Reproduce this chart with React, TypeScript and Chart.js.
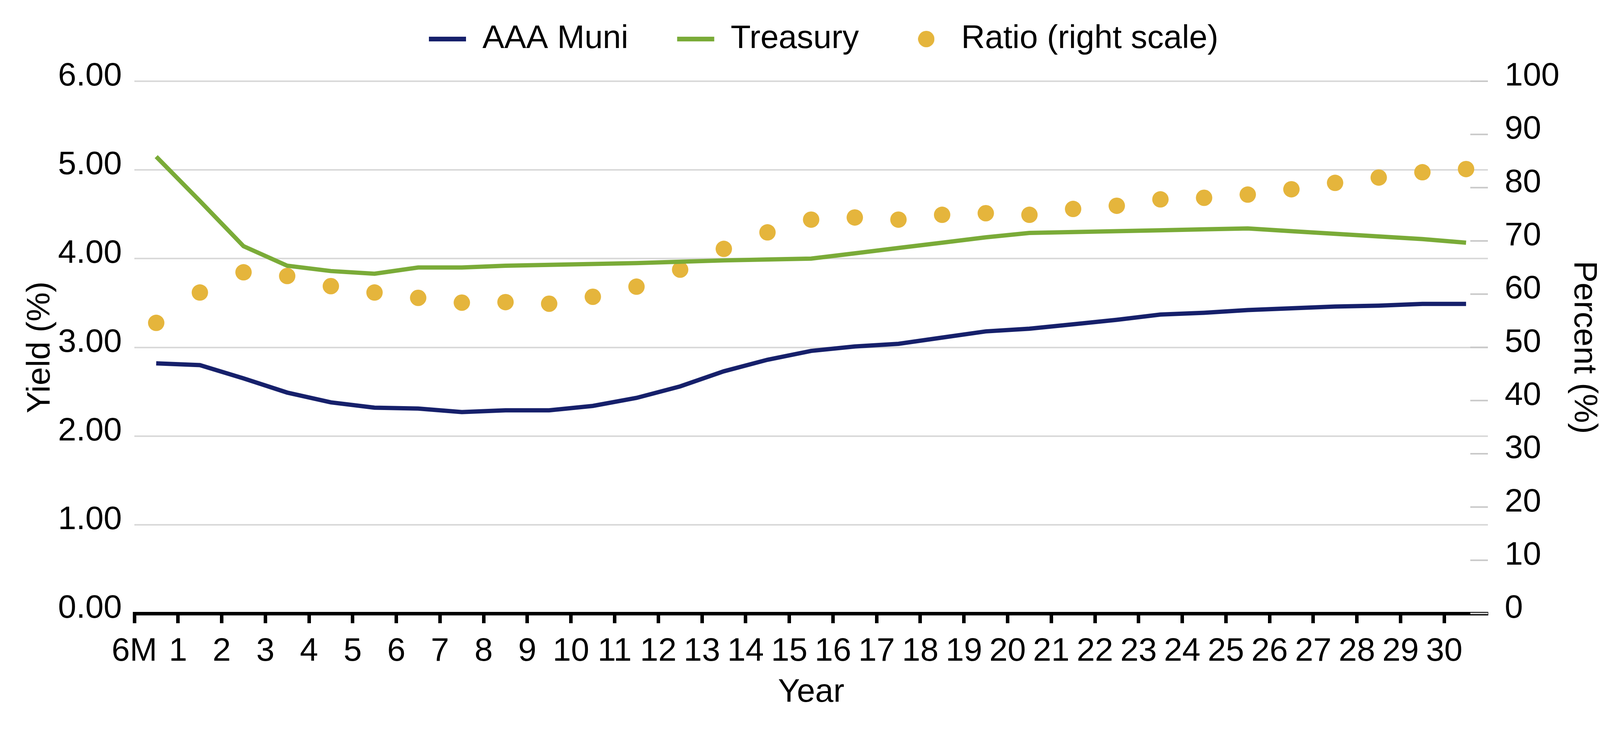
import React, { useEffect, useRef } from 'react';
import Chart from 'chart.js/auto';

// yield curve: AAA muni vs treasury, with muni/treasury ratio on the right axis
const maturities = [
  '6M', '1', '2', '3', '4', '5', '6', '7', '8', '9', '10', '11', '12', '13', '14', '15',
  '16', '17', '18', '19', '20', '21', '22', '23', '24', '25', '26', '27', '28', '29', '30',
];

const aaaMuni = [
  2.82, 2.8, 2.65, 2.49, 2.38, 2.32, 2.31, 2.27, 2.29, 2.29, 2.34, 2.43, 2.56, 2.73, 2.86, 2.96,
  3.01, 3.04, 3.11, 3.18, 3.21, 3.26, 3.31, 3.37, 3.39, 3.42, 3.44, 3.46, 3.47, 3.49, 3.49,
];

const treasury = [
  5.15, 4.65, 4.14, 3.92, 3.86, 3.83, 3.9, 3.9, 3.92, 3.93, 3.94, 3.95, 3.965, 3.98, 3.99, 4.0,
  4.06, 4.12, 4.18, 4.24, 4.29, 4.3, 4.31, 4.32, 4.33, 4.34, 4.31, 4.28, 4.25, 4.22, 4.18,
];

const ratio = [
  54.6, 60.3, 64.1, 63.4, 61.5, 60.3, 59.3, 58.4, 58.5, 58.2, 59.5, 61.4, 64.6, 68.5, 71.6, 74.0,
  74.4, 74.0, 74.9, 75.2, 74.9, 76.0, 76.6, 77.8, 78.1, 78.7, 79.7, 80.9, 81.9, 82.9, 83.5,
];

const NAVY = '#16206b';
const GREEN = '#7aab38';
const GOLD = '#e5b53c';
const GRID = '#d9d9d9';
const TICK = '#c9c9c9';
const FONT = "'Liberation Sans', Arial, sans-serif";

const font = { family: FONT, size: 84 };

// points sit in the middle of each year bucket, labels on the bucket edges
const toPoints = (values: number[]) => values.map((y, i) => ({ x: i + 0.5, y }));

// Excel-style "inside" tick marks on the secondary axis
const innerTicks = {
  id: 'innerTicks',
  beforeDatasetsDraw(chart: any) {
    const { ctx, chartArea, scales } = chart;
    const s = scales.y1;
    ctx.save();
    ctx.strokeStyle = TICK;
    ctx.lineWidth = 4;
    s.ticks.forEach((t: any) => {
      const y = s.getPixelForValue(t.value);
      ctx.beginPath();
      ctx.moveTo(chartArea.right - 45, y);
      ctx.lineTo(chartArea.right, y);
      ctx.stroke();
    });
    ctx.restore();
  },
};

// extra space between legend and plot
const legendGap = {
  id: 'legendGap',
  beforeInit(chart: any) {
    const fit = chart.legend.fit;
    chart.legend.fit = function () {
      fit.call(this);
      this.height += 56;
    };
  },
};

const makeDot = () => {
  const c = document.createElement('canvas');
  c.width = 42;
  c.height = 42;
  const g = c.getContext('2d');
  if (g) {
    g.fillStyle = GOLD;
    g.beginPath();
    g.arc(21, 21, 21, 0, Math.PI * 2);
    g.fill();
  }
  return c;
};

const App: React.FC = () => {
  const canvasRef = useRef<HTMLCanvasElement>(null);
  const chartRef = useRef<Chart | null>(null);

  useEffect(() => {
    const ctx = canvasRef.current?.getContext('2d');
    if (!ctx) return;
    if (chartRef.current) chartRef.current.destroy();

    const dot = makeDot();
    const lineColors = [NAVY, GREEN];

    chartRef.current = new Chart(ctx, {
      type: 'line',
      data: {
        datasets: [
          {
            label: 'AAA Muni',
            data: toPoints(aaaMuni),
            borderColor: NAVY,
            borderWidth: 11,
            pointRadius: 0,
            yAxisID: 'y',
          },
          {
            label: 'Treasury',
            data: toPoints(treasury),
            borderColor: GREEN,
            borderWidth: 11,
            pointRadius: 0,
            yAxisID: 'y',
          },
          {
            label: 'Ratio (right scale)',
            data: toPoints(ratio),
            showLine: false,
            pointRadius: 21,
            pointBackgroundColor: GOLD,
            pointBorderWidth: 0,
            yAxisID: 'y1',
          },
        ],
      },
      options: {
        responsive: true,
        maintainAspectRatio: false,
        animation: false,
        events: [],
        layout: { padding: { top: -67, left: 50, right: 0, bottom: 0 } },
        plugins: {
          tooltip: { enabled: false },
          legend: {
            position: 'top',
            labels: {
              font,
              color: '#000',
              usePointStyle: true,
              pointStyleWidth: 95,
              boxHeight: 30,
              padding: 125,
              generateLabels: (chart: any) => {
                const items = Chart.defaults.plugins.legend.labels.generateLabels(chart);
                return items.map((item: any, i: number) =>
                  i === 2
                    ? { ...item, pointStyle: dot }
                    : { ...item, pointStyle: 'line', lineWidth: 12, strokeStyle: lineColors[i] }
                );
              },
            },
          },
        },
        scales: {
          x: {
            type: 'linear',
            min: 0,
            max: 31,
            afterBuildTicks: (s: any) => {
              s.ticks = maturities.map((_, i) => ({ value: i }));
            },
            afterFit: (s: any) => {
              s.height = 301;
            },
            grid: {
              drawOnChartArea: false,
              drawTicks: true,
              tickLength: 25,
              tickWidth: 9,
              tickColor: '#000',
            },
            border: { display: true, color: '#000', width: 9 },
            ticks: {
              autoSkip: false,
              maxRotation: 0,
              padding: 22,
              font,
              color: '#000',
              callback: (v: any) => maturities[v],
            },
            title: {
              display: true,
              text: 'Year',
              font,
              color: '#000',
              padding: { top: 0, bottom: 48 },
            },
          },
          y: {
            position: 'left',
            min: 0,
            max: 6,
            afterFit: (s: any) => {
              s.width = 294;
            },
            grid: { color: GRID, lineWidth: 4, drawTicks: false },
            border: { display: false },
            ticks: {
              stepSize: 1,
              padding: 32,
              labelOffset: -12,
              font,
              color: '#000',
              callback: (v: any) => Number(v).toFixed(2),
            },
            title: {
              display: true,
              text: 'Yield (%)',
              font,
              color: '#000',
              padding: { top: 3, bottom: 0 },
            },
          },
          y1: {
            position: 'right',
            min: 0,
            max: 100,
            afterFit: (s: any) => {
              s.width = 358;
            },
            grid: { drawOnChartArea: false, drawTicks: false },
            border: { display: false },
            ticks: {
              stepSize: 10,
              padding: 43,
              labelOffset: -12,
              font,
              color: '#000',
            },
            title: {
              display: true,
              text: 'Percent (%)',
              font,
              color: '#000',
              padding: { top: 62, bottom: 0 },
            },
          },
        },
      },
      plugins: [innerTicks, legendGap],
    } as any);

    return () => {
      if (chartRef.current) {
        chartRef.current.destroy();
        chartRef.current = null;
      }
    };
  }, []);

  return (
    <div style={{ position: 'fixed', left: 0, top: 0, width: '4167px', height: '1872px', background: '#fff' }}>
      <canvas ref={canvasRef} />
    </div>
  );
};

export default App;
